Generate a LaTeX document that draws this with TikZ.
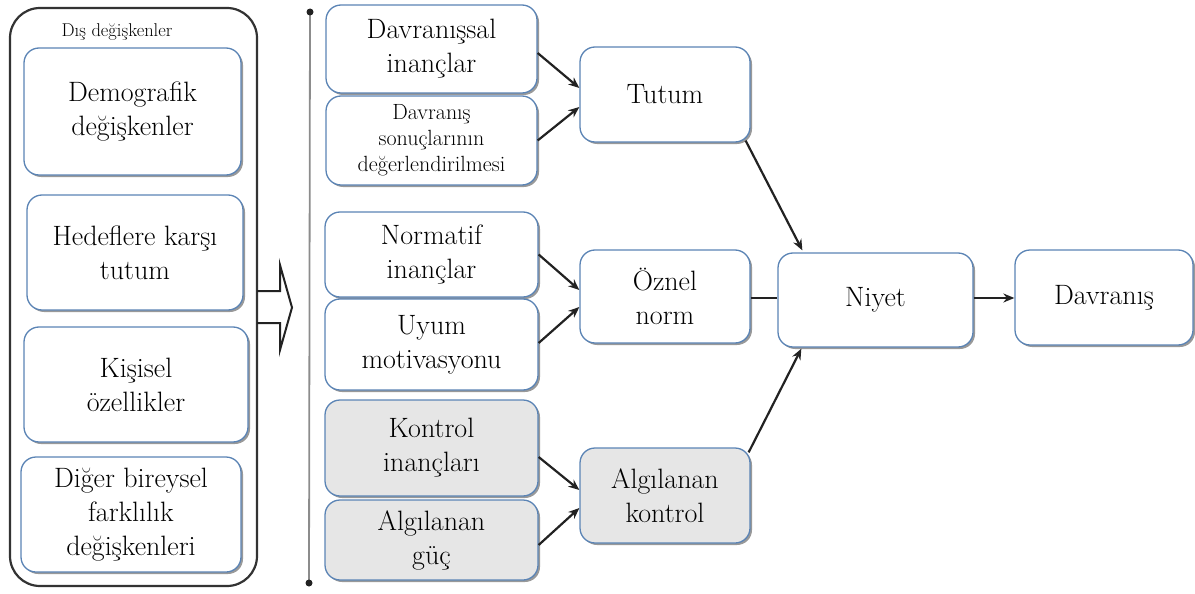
\documentclass[tikz,border=0pt]{standalone}
\usepackage{fontspec}
\usetikzlibrary{arrows.meta,shadows}
\definecolor{boxblue}{HTML}{5B84B5}
\definecolor{boxgrey}{HTML}{E6E6E6}
\definecolor{inkdark}{HTML}{222222}
\tikzset{
  box/.style={draw=boxblue, line width=1.3pt, rounded corners=15pt, fill=white,
    align=center, inner sep=2pt,
    drop shadow={shadow xshift=2pt, shadow yshift=-2pt, fill=black!50, opacity=0.8}},
  greybox/.style={box, fill=boxgrey},
  bigtext/.style={font=\fontsize{28pt}{34pt}\selectfont},
  smalltext/.style={font=\fontsize{22pt}{26pt}\selectfont},
  arr/.style={draw=inkdark, line width=2.2pt, -{Stealth[length=11pt,width=9pt]}},
  link/.style={draw=inkdark, line width=2.2pt},
}
\begin{document}
\begin{tikzpicture}[x=1pt,y=-1pt]
\useasboundingbox (0,0) rectangle (1195,594);

% external variables frame
\draw[draw=black!80, line width=2.2pt, rounded corners=30pt] (10,8) rectangle (257,586);
\node[font=\fontsize{18.5pt}{20pt}\selectfont] (dis) at (117,32) {Dış değişkenler};

\node[box, bigtext, minimum width=217pt, minimum height=127pt] (demo) at (132.5,111.5) {Demografik\\değişkenler};
\node[box, bigtext, minimum width=216pt, minimum height=115pt] (hedef) at (135,252.5) {Hedeflere karşı\\tutum};
\node[box, bigtext, minimum width=224pt, minimum height=115pt] (kisi) at (136,384.5) {Kişisel\\özellikler};
\node[box, bigtext, minimum width=220pt, minimum height=115pt] (diger) at (131,514.5) {Diğer bireysel\\farklılık\\değişkenleri};

% hollow arrow out of the frame
\draw[draw=inkdark, line width=2pt, line join=miter]
  (257,291) -- (280,291) -- (280,265) -- (292,307.5) -- (280,350) -- (280,323) -- (257,323);

% separator line
\coordinate (vtop) at (310,12);
\coordinate (vbot) at (309,583);
\draw[draw=black!45, line width=1.8pt] (vtop) -- (vbot);
\fill[inkdark] (vtop) circle (3.5pt);
\fill[inkdark] (vbot) circle (3.5pt);

% belief boxes
\node[box, bigtext, minimum width=211pt, minimum height=88pt] (davs) at (431.5,49) {Davranışsal\\inançlar};
\node[box, smalltext, minimum width=211pt, minimum height=89pt] (davso) at (431.5,140.5) {Davranış\\sonuçlarının\\değerlendirilmesi};
\node[box, bigtext, minimum width=213pt, minimum height=85pt] (norm) at (431.5,254.5) {Normatif\\inançlar};
\node[box, bigtext, minimum width=213pt, minimum height=91pt] (uyum) at (431.5,344.5) {Uyum\\motivasyonu};
\node[greybox, bigtext, minimum width=213pt, minimum height=96pt] (kont) at (431.5,448) {Kontrol\\inançları};
\node[greybox, bigtext, minimum width=213pt, minimum height=80pt] (guc) at (431.5,540) {Algılanan\\güç};

% constructs
\node[box, bigtext, minimum width=170pt, minimum height=95pt] (tutum) at (665,94.5) {Tutum};
\node[box, bigtext, minimum width=170pt, minimum height=93pt] (oznel) at (665,296.5) {Öznel\\norm};
\node[greybox, bigtext, minimum width=170pt, minimum height=95pt] (algk) at (665,495.5) {Algılanan\\kontrol};
\node[box, bigtext, minimum width=195pt, minimum height=94pt] (niyet) at (875.5,300) {Niyet};
\node[box, bigtext, minimum width=178pt, minimum height=95pt] (davr) at (1104,297.5) {Davranış};

% connectors
\draw[arr] ([yshift=-4pt]davs.east) -- ([yshift=6.5pt]tutum.west);
\draw[arr] (davso.east) -- ([yshift=-12.5pt]tutum.west);
\draw[arr] (norm.east) -- ([yshift=6.5pt]oznel.west);
\draw[arr] ([yshift=1.5pt]uyum.east) -- ([yshift=-10.5pt]oznel.west);
\draw[arr] ([yshift=-9pt]kont.east) -- ([yshift=5.5pt]algk.west);
\draw[arr] ([yshift=-5pt]guc.east) -- ([yshift=-12.5pt]algk.west);

\draw[arr] ([xshift=-5pt,yshift=2pt]tutum.south east) -- ([xshift=25pt,yshift=2pt]niyet.north west);
\draw[link] ([yshift=-1.5pt]oznel.east) -- ([yshift=-1.5pt]oznel.east -| niyet.west);
\draw[arr] ([xshift=-2pt,yshift=-5pt]algk.north east) -- ([xshift=24pt,yshift=-1pt]niyet.south west);
\draw[arr] ([yshift=2pt]niyet.east) -- ([yshift=2pt]niyet.east -| davr.west);
\end{tikzpicture}
\end{document}
